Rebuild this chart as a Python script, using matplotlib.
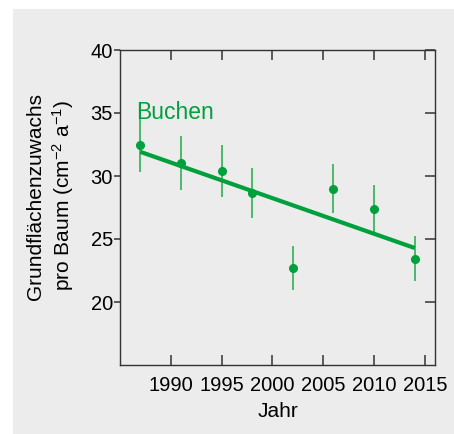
import numpy as np
import matplotlib
matplotlib.use('Agg')
from matplotlib import pyplot as plt
from matplotlib.patches import Rectangle

# Data
years = [1987, 1991, 1995, 1998, 2002, 2006, 2010, 2014]
growth = [32.5, 31.0, 30.4, 28.65, 22.7, 29.0, 27.4, 23.45]
err = [2.2, 2.15, 2.1, 1.95, 1.75, 1.95, 1.9, 1.8]
xticks = [1990, 1995, 2000, 2005, 2010, 2015]
yticks = [20, 25, 30, 35, 40]

green = '#00a03c'
green_light = '#3db55f'

plt.rcParams['font.family'] = ['Liberation Sans', 'DejaVu Sans']
plt.rcParams['mathtext.fontset'] = 'custom'
plt.rcParams['mathtext.rm'] = 'Liberation Sans'
plt.rcParams['mathtext.it'] = 'Liberation Sans'

fig = plt.figure(figsize=(4.54, 4.34), dpi=100)
fig.patch.set_facecolor('white')
# grey panel behind the plot
fig.add_artist(Rectangle((13 / 454, 0), 1, 1 - 9 / 434, transform=fig.transFigure,
                         facecolor='#ececec', edgecolor='none', zorder=-10))

ax = fig.add_axes([120 / 454, 69 / 434, 315 / 454, 315 / 434])
ax.set_facecolor('#ececec')

# error bars and points
ax.errorbar(years, growth, yerr=err, fmt='none', ecolor=green_light, elinewidth=1.3, zorder=2)
ax.plot(years, growth, 'o', color=green, markersize=5.5, zorder=3)

# linear trend
slope, icpt = np.polyfit(years, growth, 1)
xs = np.array([years[0], years[-1]])
ax.plot(xs, slope * xs + icpt, color=green, linewidth=3, solid_capstyle='butt', zorder=4)

ax.text(1986.6, 34.55, 'Buchen', color=green, fontsize=16.5, ha='left', va='baseline')

ax.set_xlim(1985, 2016)
ax.set_ylim(15, 40)
ax.set_xticks(xticks)
ax.set_yticks(yticks)

for s in ax.spines.values():
    s.set_color('#333333')
    s.set_linewidth(1.0)

ax.tick_params(axis='x', direction='in', length=7, width=1.1, color='#333333',
               top=True, labelsize=14.5, pad=8)
ax.tick_params(axis='y', direction='out', length=4, width=1.1, color='#333333',
               left=True, right=False, labelsize=14.5, pad=1)
# inward ticks on the right side
axr = ax.secondary_yaxis('right')
axr.set_yticks(yticks)
axr.tick_params(direction='in', length=7, width=1.1, color='#333333', labelright=False)
axr.spines['right'].set_visible(False)

ax.set_xlabel('Jahr', fontsize=15, labelpad=5)
fig.text(51 / 454, 1 - 196 / 434,
         'Grundflächenzuwachs\npro Baum (cm$^{-2}$ a$^{-1}$)',
         rotation=90, ha='center', va='center', fontsize=15, linespacing=1.3)

fig.savefig('out.png', dpi=100)
